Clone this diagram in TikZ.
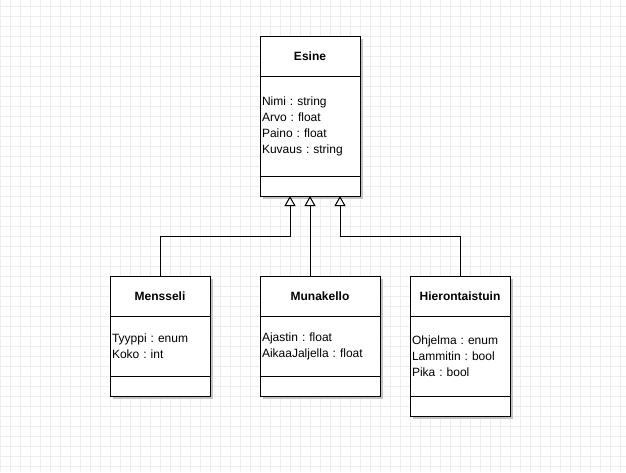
\documentclass[tikz,border=0pt]{standalone}
\usepackage{fontspec}
\setmainfont{Liberation Sans}
\frenchspacing
\usepackage{xcolor}
\definecolor{Grid Line}{HTML}{EEEEEE}
\definecolor{Shadow Grey}{HTML}{C4C4C4}
\colorlet{cGrid}{Grid Line}
\colorlet{cShadow}{Shadow Grey}
\usetikzlibrary{calc, arrows.meta, positioning, shadows}
\tikzset{
	node distance = 0pt,
	line width = 1pt,
	font = \fontsize{12}{16}\selectfont,
	gridline/.style={
		draw=cGrid,
		line width=1pt
	},
	classpart/.style={
		draw,
		fill=white,
		rectangle,
		outer sep=0pt,
		inner xsep=2pt,
		minimum width=#1,
		drop shadow={shadow xshift=3pt, shadow yshift=-3pt, fill=cShadow, opacity=1}
	},
	classname/.style={
		classpart=#1,
		minimum height=40pt,
		font=\bfseries\fontsize{12}{16}\selectfont
	},
	classattrs/.style n args={3}{
		classpart=#1,
		minimum height=#2,
		text width=#3,
		align=left
	},
	classops/.style={
		classpart=#1,
		minimum height=20pt
	},
	generalization/.style={
		-{Triangle[open, length=10pt, width=11pt]},
		line width=1pt
	}
}

\begin{document}
\begin{tikzpicture}[x=1pt, y=-1pt]
\useasboundingbox (0,0) rectangle (626,472);
% ---
% background grid
% ---
\foreach \gx in {0,10,...,620} \draw[gridline] (\gx,0) -- (\gx,472);
\foreach \gy in {6,16,...,466} \draw[gridline] (0,\gy) -- (626,\gy);

% ---
% base class
% ---
\node[classname=100pt, anchor=north west] at (260,36) (esine-t) {Esine};
\node[classattrs={100pt}{100pt}{96pt}, below=of esine-t] (esine-a) {Nimi : string\\Arvo : float\\Paino : float\\Kuvaus : string};
\node[classops=100pt, below=of esine-a] (esine-o) {};

% ---
% subclasses
% ---
\node[classname=100pt, anchor=north west] at (110,276) (mensseli-t) {Mensseli};
\node[classattrs={100pt}{60pt}{96pt}, below=of mensseli-t] (mensseli-a) {Tyyppi : enum\\Koko : int};
\node[classops=100pt, below=of mensseli-a] (mensseli-o) {};

\node[classname=120pt, anchor=north west] at (260,276) (munakello-t) {Munakello};
\node[classattrs={120pt}{60pt}{116pt}, below=of munakello-t] (munakello-a) {Ajastin : float\\AikaaJaljella : float};
\node[classops=120pt, below=of munakello-a] (munakello-o) {};

\node[classname=100pt, anchor=north west] at (410,276) (hieronta-t) {Hierontaistuin};
\node[classattrs={100pt}{80pt}{96pt}, below=of hieronta-t] (hieronta-a) {Ohjelma : enum\\Lammitin : bool\\Pika : bool};
\node[classops=100pt, below=of hieronta-a] (hieronta-o) {};

% ---
% inheritance
% ---
\coordinate (in-l) at ($(esine-o.south)+(-20,0)$);
\coordinate (in-r) at ($(esine-o.south)+(30,0)$);

\draw[generalization] (mensseli-t.north) |- ($(in-l)+(0,40)$) -- (in-l);
\draw[generalization] (munakello-t.north -| esine-o.south) -- (esine-o.south);
\draw[generalization] (hieronta-t.north) |- ($(in-r)+(0,40)$) -- (in-r);
\end{tikzpicture}
\end{document}
